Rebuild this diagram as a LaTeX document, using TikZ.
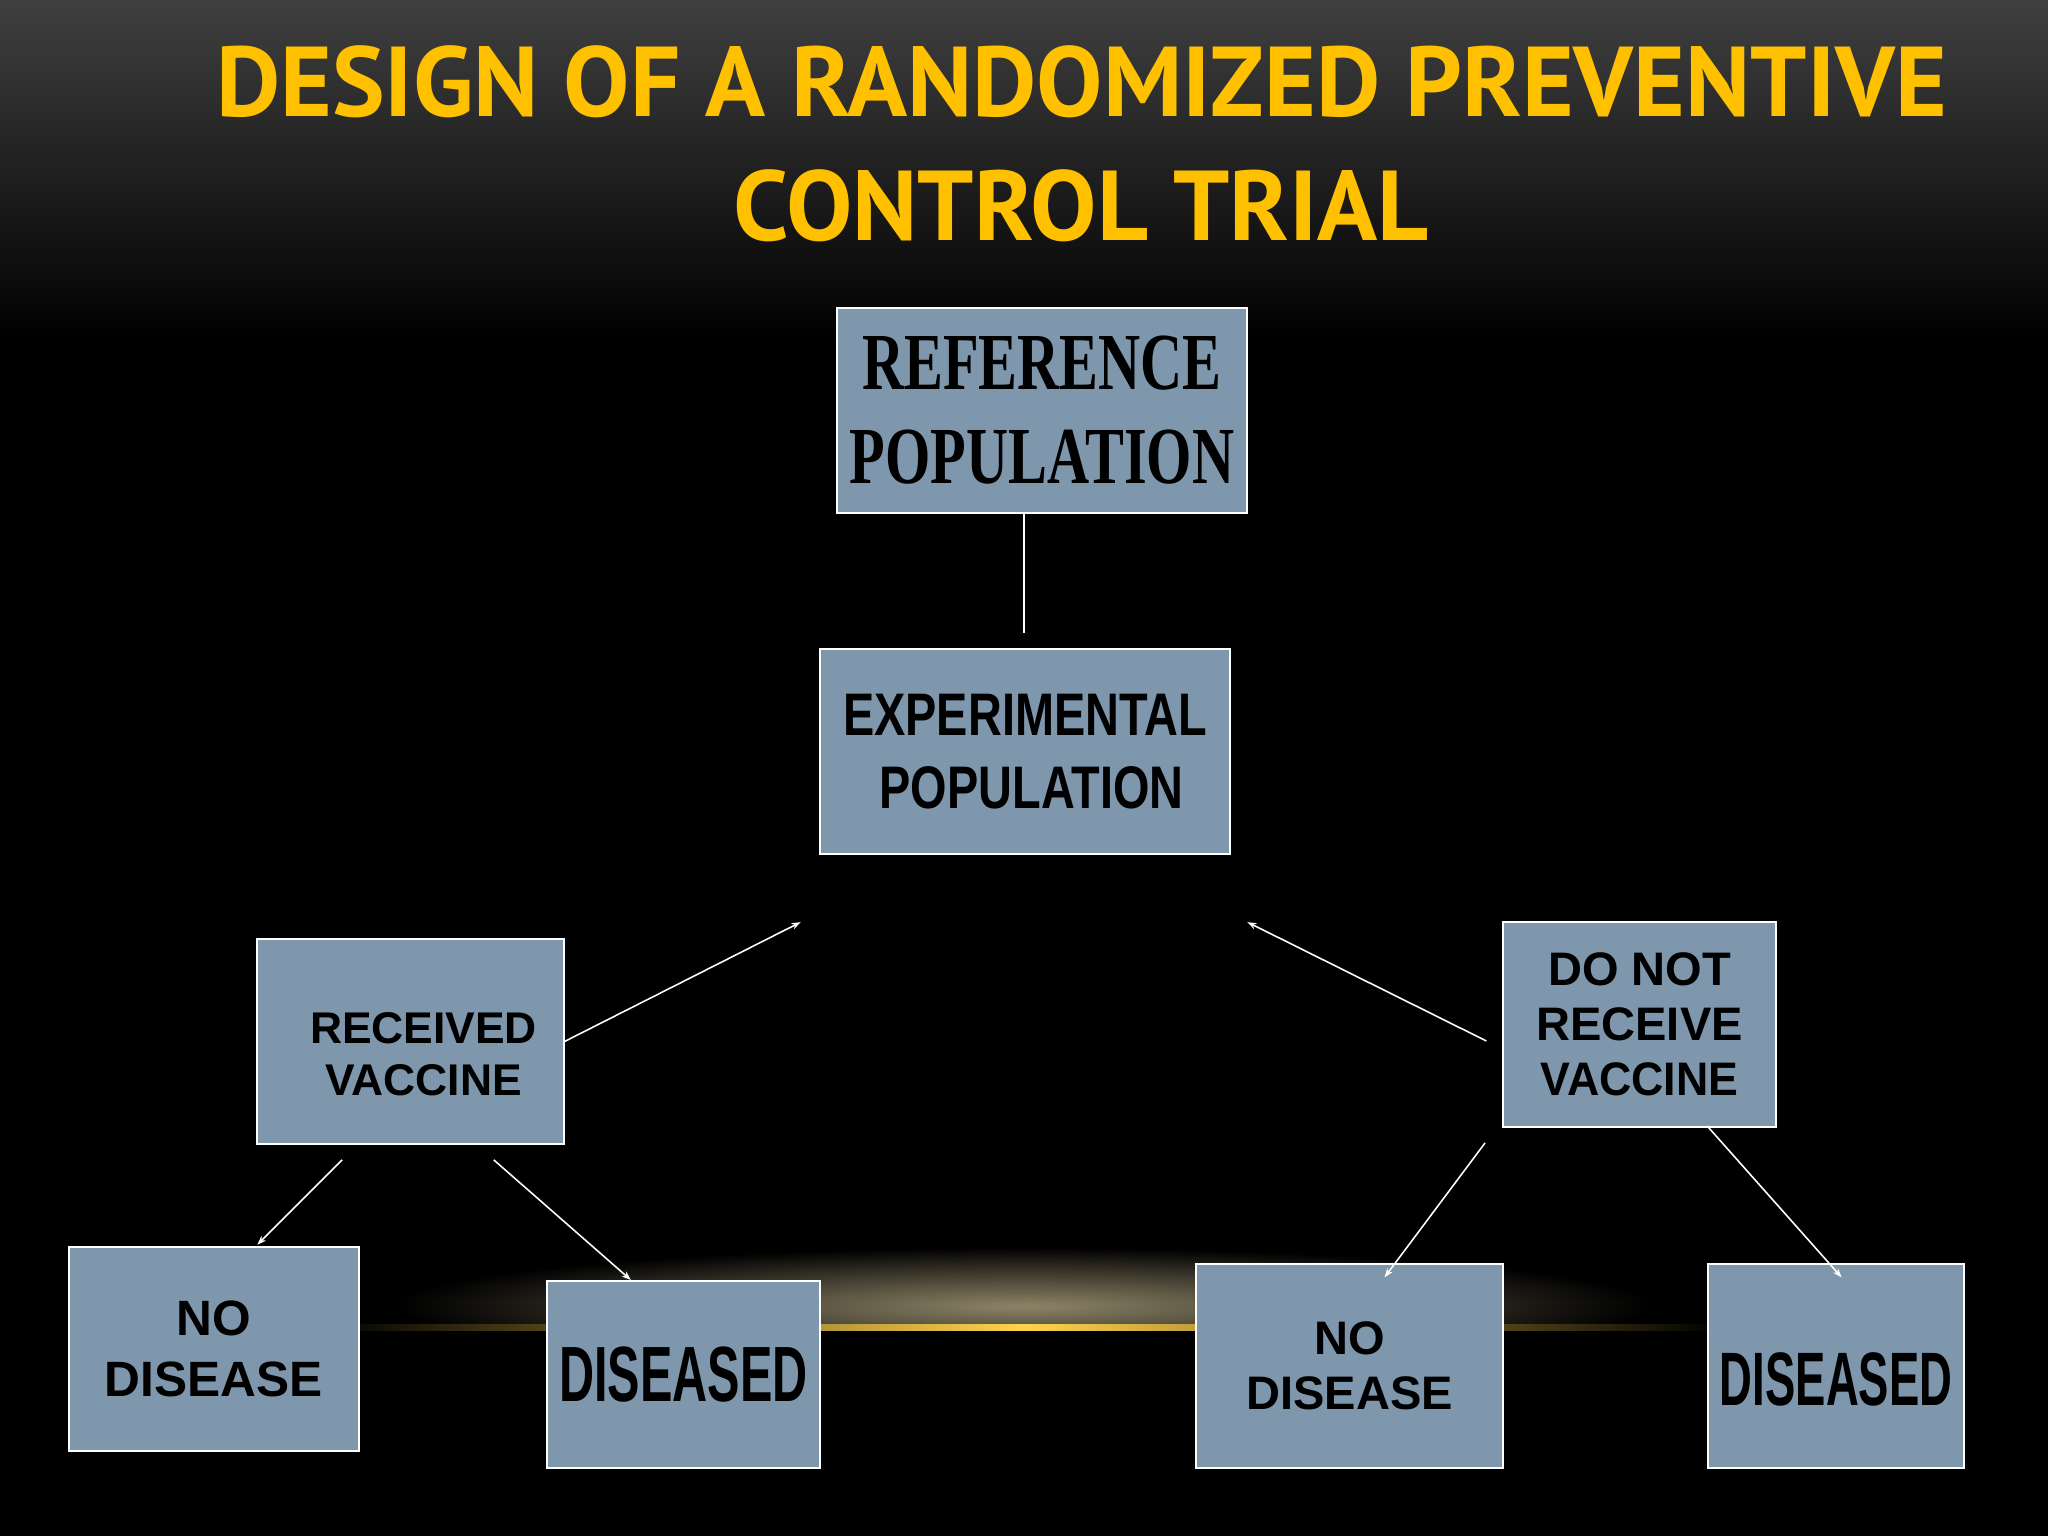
\documentclass[tikz,border=0pt]{standalone}
\usepackage{fontspec}
\setmainfont{Liberation Sans}
\newfontfamily\serifb{Liberation Serif}
\newfontfamily\titlef{PT Sans}
\usetikzlibrary{arrows.meta}
\definecolor{boxc}{HTML}{7F97AD}
\definecolor{gold}{HTML}{FFC000}
\begin{document}
\begin{tikzpicture}[x=1pt,y=-1pt,
  box/.style={draw=white,line width=1.5pt,fill=boxc},
  lbl/.style={font=\bfseries,text=black,align=center},
  conn/.style={draw=white,line width=1.2pt},
  arr/.style={conn,-{Stealth[length=7pt,width=5pt]}}]
\useasboundingbox (0,0) rectangle (1568,1176);
\shade[top color=black!75,bottom color=black] (0,0) rectangle (1568,260);
\fill[black] (0,260) rectangle (1568,1176);
\shade[inner color=black!75!gold!60,outer color=black] (784,1000) ellipse (480 and 45);
\fill[black] (0,1019) rectangle (1568,1176);
\shade[left color=black,right color=gold!70] (250,1014) rectangle (784,1019);
\shade[left color=gold!70,right color=black] (784,1014) rectangle (1318,1019);
\node[text=gold,font=\titlef\bfseries\fontsize{76}{95}\selectfont,align=center] (title) at (828,110) {DESIGN OF A RANDOMIZED PREVENTIVE\\CONTROL TRIAL};
\node[box,minimum width=314,minimum height=157,anchor=north west] (ref) at (640,235) {};
\node[lbl,font=\serifb\bfseries\fontsize{62}{72}\selectfont] at (ref.center) {\scalebox{0.72}[1]{REFERENCE}\\\scalebox{0.72}[1]{POPULATION}};
\node[box,minimum width=314,minimum height=157,anchor=north west] (exp) at (627,496) {};
\node[lbl,font=\bfseries\fontsize{46}{56}\selectfont] at (exp.center) {\scalebox{0.78}[1]{EXPERIMENTAL}\\\scalebox{0.78}[1]{\ POPULATION}};
\node[box,minimum width=235,minimum height=157,anchor=north west] (rec) at (196,718) {};
\node[lbl,font=\bfseries\fontsize{34}{40}\selectfont] at ([xshift=10pt,yshift=-10pt]rec.center) {RECEIVED\\VACCINE};
\node[box,minimum width=209,minimum height=157,anchor=north west] (dnr) at (1150,705) {};
\node[lbl,font=\bfseries\fontsize{36}{42}\selectfont] at (dnr.center) {DO NOT\\RECEIVE\\\scalebox{0.95}[1]{VACCINE}};
\node[box,minimum width=222,minimum height=156,anchor=north west] (nd1) at (52,954) {};
\node[lbl,font=\bfseries\fontsize{38}{46}\selectfont] at (nd1.center) {NO\\DISEASE};
\node[box,minimum width=209,minimum height=143,anchor=north west] (ds1) at (418,980) {};
\node[lbl,font=\bfseries\fontsize{60}{60}\selectfont] at (ds1.center) {\scalebox{0.62}[1]{DISEASED}};
\node[box,minimum width=235,minimum height=156,anchor=north west] (nd2) at (915,967) {};
\node[lbl,font=\bfseries\fontsize{36}{42}\selectfont] at (nd2.center) {NO\\DISEASE};
\node[box,minimum width=196,minimum height=156,anchor=north west] (ds2) at (1307,967) {};
\node[lbl,font=\bfseries\fontsize{58}{60}\selectfont] at ([yshift=-10pt]ds2.center) {\scalebox{0.6}[1]{DISEASED}};
\coordinate (c0t) at (784,392);
\coordinate (c0) at (784,485);
\coordinate (c1) at (613,706);
\coordinate (c2) at (955,706);
\coordinate (dw) at (1138,797);
\coordinate (r1) at (262,888);
\coordinate (r2) at (378,888);
\coordinate (d1) at (1137,875);
\coordinate (d2) at (1307,862);
\coordinate (n1) at (197,953);
\coordinate (n2) at (483,980);
\coordinate (n3) at (1060,978);
\coordinate (n4) at (1410,978);
\draw[conn] (c0t) -- (c0);
\draw[arr] (rec.east) -- (c1);
\draw[arr] (dw) -- (c2);
\draw[arr] (r1) -- (n1);
\draw[arr] (r2) -- (n2);
\draw[arr] (d1) -- (n3);
\draw[arr] (d2) -- (n4);
\end{tikzpicture}
\end{document}
